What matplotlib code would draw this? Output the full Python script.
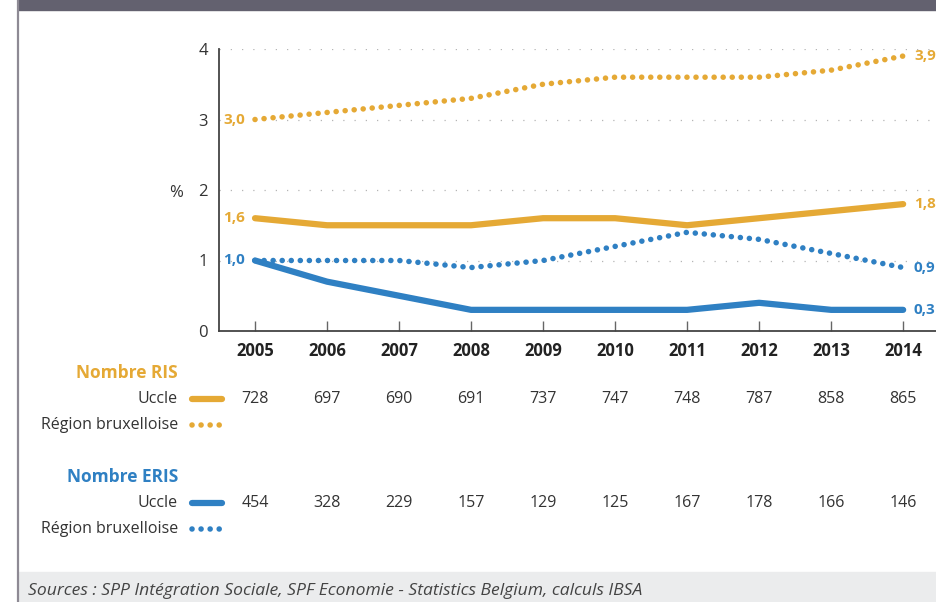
import matplotlib

matplotlib.use("Agg")
import matplotlib.pyplot as plt
from matplotlib.lines import Line2D
from matplotlib.patches import Rectangle
from matplotlib.transforms import blended_transform_factory

plt.rcParams["font.family"] = ["Open Sans", "DejaVu Sans"]

years = [2005, 2006, 2007, 2008, 2009, 2010, 2011, 2012, 2013, 2014]
ris_uccle = [1.6, 1.5, 1.5, 1.5, 1.6, 1.6, 1.5, 1.6, 1.7, 1.8]
ris_region = [3.0, 3.1, 3.2, 3.3, 3.5, 3.6, 3.6, 3.6, 3.7, 3.9]
eris_uccle = [1.0, 0.7, 0.5, 0.3, 0.3, 0.3, 0.3, 0.4, 0.3, 0.3]
eris_region = [1.0, 1.0, 1.0, 0.9, 1.0, 1.2, 1.4, 1.3, 1.1, 0.9]
ris_counts = [728, 697, 690, 691, 737, 747, 748, 787, 858, 865]
eris_counts = [454, 328, 229, 157, 129, 125, 167, 178, 166, 146]
yticks = [0, 1, 2, 3, 4]

ORANGE = "#e5a935"
BLUE = "#2f80c3"
TXT = "#333333"
W, H = 937, 602


def fx(px):
    return px / W


def fy(py):
    return 1 - py / H


fig = plt.figure(figsize=(W / 100, H / 100), dpi=100)

# frame decorations: dark header band, left rule, source band
fig.patches.append(Rectangle((fx(18), fy(10)), 1, 1, transform=fig.transFigure,
                             color="#63616f", zorder=0))
fig.lines.append(Line2D([fx(18), fx(18)], [0, 1], transform=fig.transFigure,
                        color="#8e8a94", lw=1.6))
fig.patches.append(Rectangle((fx(19), 0), 1, fy(572), transform=fig.transFigure,
                             color="#ebeced", zorder=0))
fig.text(fx(28), fy(591), "Sources : SPP Intégration Sociale, SPF Economie - Statistics Belgium, calculs IBSA",
         fontsize=12.6, style="italic", color="#444444", va="center")

ax = fig.add_axes([fx(219), fy(331), 1 - fx(219), (331 - 49) / H])
ax.set_xlim(2004.5, 2014.47)
ax.set_ylim(0, 4)

for y in yticks[1:]:
    ax.axhline(y, color="#b5b5b5", lw=0.9, ls=(0, (1, 8)), zorder=0)

dot = dict(lw=4, ls=(0, (0.01, 1.62)), dash_capstyle="round", clip_on=False)
ax.plot(years, ris_region, color=ORANGE, **dot)
ax.plot(years, eris_region, color=BLUE, **dot)
ax.plot(years, ris_uccle, color=ORANGE, lw=4.5, solid_capstyle="round", clip_on=False)
ax.plot(years, eris_uccle, color=BLUE, lw=4.5, solid_capstyle="round", clip_on=False)

# end labels
lab = dict(fontsize=11, fontweight="bold", va="center")
for series, col in [(ris_region, ORANGE), (ris_uccle, ORANGE), (eris_uccle, BLUE), (eris_region, BLUE)]:
    ax.text(years[-1] + 0.15, series[-1], f"{series[-1]:.1f}".replace(".", ","), color=col,
            ha="left", clip_on=False, **lab)
for series, col in [(ris_region, ORANGE), (ris_uccle, ORANGE), (eris_region, BLUE)]:
    ax.text(years[0] - 0.14, series[0], f"{series[0]:.1f}".replace(".", ","), color=col,
            ha="right", **lab)

for s in ["top", "right"]:
    ax.spines[s].set_visible(False)
for s in ["left", "bottom"]:
    ax.spines[s].set_color("#444444")
    ax.spines[s].set_linewidth(1.3)
ax.set_yticks(yticks)
ax.set_yticklabels([str(v) for v in yticks], fontsize=12, color=TXT)
ax.tick_params(axis="y", length=0, pad=8)
ax.set_xticks(years)
ax.set_xticklabels([str(y) for y in years], fontsize=12, fontweight="bold", color="#222222")
ax.tick_params(axis="x", direction="in", length=7, width=1, color="#666666", pad=8)
fig.text(fx(176), fy(193), "%", fontsize=12, color=TXT, ha="center", va="center")

# table below the chart
tr = blended_transform_factory(ax.transData, fig.transFigure)
fig.text(fx(178), fy(373), "Nombre RIS", fontsize=12.5, fontweight="bold", color=ORANGE,
         ha="right", va="center")
fig.text(fx(178), fy(477), "Nombre ERIS", fontsize=12.5, fontweight="bold", color=BLUE,
         ha="right", va="center")
for ry, name in [(399, "Uccle"), (425, "Région bruxelloise"), (503, "Uccle"), (529, "Région bruxelloise")]:
    fig.text(fx(178), fy(ry), name, fontsize=11.5, color=TXT, ha="right", va="center")
for ry, col, style in [(399, ORANGE, "solid"), (425, ORANGE, "dot"), (503, BLUE, "solid"), (529, BLUE, "dot")]:
    if style == "solid":
        fig.lines.append(Line2D([fx(192), fx(222)], [fy(ry), fy(ry)], transform=fig.transFigure,
                                color=col, lw=4.5, solid_capstyle="round"))
    else:
        fig.lines.append(Line2D([fx(192), fx(220)], [fy(ry), fy(ry)], transform=fig.transFigure,
                                color=col, lw=4, ls=(0, (0.01, 1.62)), dash_capstyle="round"))
for yr, v in zip(years, ris_counts):
    ax.text(yr, fy(399), str(v), transform=tr, fontsize=11.5, color=TXT, ha="center", va="center")
for yr, v in zip(years, eris_counts):
    ax.text(yr, fy(503), str(v), transform=tr, fontsize=11.5, color=TXT, ha="center", va="center")

fig.savefig("out.png", dpi=100)
